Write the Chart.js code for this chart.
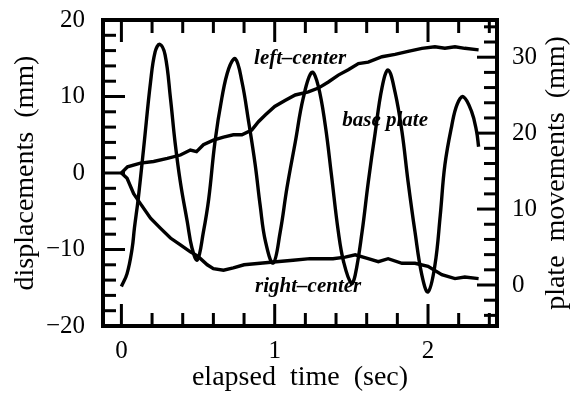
<!DOCTYPE html>
<html>
<head>
<meta charset="utf-8">
<script src="https://cdn.jsdelivr.net/npm/chart.js@4/dist/chart.umd.min.js"></script>
<style>
  html, body { margin: 0; padding: 0; background: #fff; }
</style>
</head>
<body>
<canvas id="myChart" width="572" height="396"></canvas>
<script>
// base plate movement, right axis (mm)
const plateTime = [0, 0.037, 0.07, 0.085, 0.11, 0.145, 0.19, 0.22, 0.25, 0.285, 0.32, 0.35, 0.385, 0.43, 0.46, 0.495,
  0.535, 0.57, 0.61, 0.655, 0.70, 0.743, 0.786, 0.83, 0.873, 0.905, 0.94, 0.99,
  1.036, 1.08, 1.134, 1.186, 1.242, 1.283, 1.33, 1.37, 1.415, 1.45, 1.50,
  1.525, 1.57, 1.61, 1.655, 1.70, 1.74, 1.785, 1.83, 1.87, 1.915, 1.96, 2.00,
  2.045, 2.08, 2.11, 2.155, 2.19, 2.23, 2.285, 2.317, 2.33];
const plateMove = [-0.2, 1.5, 4.8, 7.5, 11.4, 18.0, 26.7, 30.7, 31.7, 30.3, 24.6, 18.8, 13.5, 8.3, 4.9, 3.3,
  7.0, 11.4, 18.8, 24.6, 28.5, 29.8, 26.8, 21.5, 15.8, 10.5, 5.7, 2.9,
  7.0, 12.8, 18.8, 24.6, 28.0, 26.3, 21.0, 14.5, 7.0, 3.0, 0.2,
  1.3, 7.0, 13.5, 20.0, 26.0, 28.3, 25.4, 20.2, 13.6, 7.0, 1.3, -0.9,
  2.6, 9.2, 15.8, 21.0, 23.8, 24.8, 22.8, 20.2, 18.2];

// left-center displacement (mm)
const leftTime = [0, 0.04, 0.124, 0.21, 0.30, 0.385, 0.45, 0.49, 0.535, 0.60, 0.666, 0.73, 0.786, 0.85, 0.894,
  0.94, 1.0, 1.07, 1.134, 1.22, 1.285, 1.35, 1.415, 1.48, 1.546, 1.61, 1.70, 1.785, 1.87, 1.96,
  2.045, 2.11, 2.176, 2.24, 2.33];
const leftCenter = [0, 0.8, 1.3, 1.5, 1.9, 2.35, 3.0, 2.8, 3.7, 4.3, 4.7, 5.0, 5.0, 5.6, 6.7,
  7.6, 8.7, 9.5, 10.2, 10.6, 11.1, 11.9, 12.8, 13.5, 14.3, 14.5, 15.2, 15.5, 15.9, 16.3,
  16.5, 16.3, 16.5, 16.3, 16.1];

// right-center displacement (mm)
const rightTime = [0, 0.037, 0.08, 0.124, 0.19, 0.254, 0.32, 0.385, 0.45, 0.50, 0.56, 0.60, 0.666, 0.73, 0.80,
  0.905, 1.01, 1.12, 1.23, 1.38, 1.46, 1.525, 1.61, 1.676, 1.74, 1.83, 1.915, 2.0, 2.09, 2.176, 2.24, 2.33];
const rightCenter = [0, -0.7, -2.7, -4.0, -5.9, -7.2, -8.5, -9.4, -10.3, -10.9, -12.0, -12.5, -12.7, -12.4, -12.0,
  -11.8, -11.6, -11.4, -11.2, -11.2, -11.0, -10.7, -11.2, -11.6, -11.2, -11.8, -11.8, -12.2, -13.3, -13.8, -13.6, -13.8];

// tick labels
const timeTicks = [0, 1, 2];
const dispTicks = [-20, -10, 0, 10, 20];
const plateTicks = [0, 10, 20, 30];

// curve names, placed in data units (time, displacement)
const notes = [
  { text: 'left\u2013center', t: 1.166, v: 15.0 },
  { text: 'base plate', t: 1.72, v: 6.9 },
  { text: 'right\u2013center', t: 1.218, v: -14.9 }
];

const serif = '"Liberation Serif", "Times New Roman", serif';
Chart.defaults.color = '#000';
Chart.defaults.font.family = serif;

const pairs = (xs, ys) => xs.map((t, i) => ({ x: t, y: ys[i] }));
const minus = v => (v < 0 ? '\u2212' + Math.abs(v) : String(v));

// inward ticks, frame, curve names and the right-hand title
const frameTicks = {
  id: 'frameTicks',
  afterDatasetsDraw(chart) {
    const { ctx, chartArea: a, scales } = chart;
    const sx = scales.x, yl = scales.y, yr = scales.y2;
    const line = (x1, y1, x2, y2) => { ctx.beginPath(); ctx.moveTo(x1, y1); ctx.lineTo(x2, y2); ctx.stroke(); };
    ctx.save();
    ctx.strokeStyle = '#000';
    ctx.lineWidth = 3;

    for (let i = 0; i <= 12; i++) {
      const v = i / 5;
      const len = Number.isInteger(v) ? 22 : 13;
      const px = sx.getPixelForValue(v);
      line(px, a.bottom, px, a.bottom - len);
      line(px, a.top, px, a.top + len);
    }
    for (let v = -18; v <= 18; v += 2) {
      const len = v % 10 === 0 ? 22 : 13;
      const py = yl.getPixelForValue(v);
      line(a.left, py, a.left + len, py);
    }
    for (let v = -4; v <= 34; v += 2) {
      const len = v % 10 === 0 ? 20 : 13;
      const py = yr.getPixelForValue(v);
      line(a.right, py, a.right - len, py);
    }

    ctx.lineWidth = 4;
    ctx.strokeRect(a.left, a.top, a.right - a.left, a.bottom - a.top);

    ctx.fillStyle = '#000';
    ctx.textAlign = 'center';
    ctx.textBaseline = 'middle';
    ctx.font = 'bold italic 21px ' + serif;
    notes.forEach(n => {
      ctx.fillText(n.text, sx.getPixelForValue(n.t), yl.getPixelForValue(n.v));
    });

    ctx.font = '28px ' + serif;
    ctx.translate(chart.width - 15, (a.top + a.bottom) / 2);
    ctx.rotate(-Math.PI / 2);
    ctx.fillText('plate  movements  (mm)', 0, 0);
    ctx.restore();
  }
};

const fixBox = (w, h) => scale => {
  if (w) scale.width = w;
  if (h) scale.height = h;
  scale.paddingTop = 0; scale.paddingBottom = 0;
  scale.paddingLeft = 0; scale.paddingRight = 0;
};

const lineStyle = { borderColor: '#000', borderWidth: 3.4, pointRadius: 0, fill: false };

const ctx = document.getElementById('myChart').getContext('2d');
new Chart(ctx, {
  type: 'line',
  data: {
    datasets: [
      { label: 'base plate', data: pairs(plateTime, plateMove), yAxisID: 'y2', tension: 0.4, ...lineStyle },
      { label: 'left-center', data: pairs(leftTime, leftCenter), yAxisID: 'y', tension: 0, ...lineStyle },
      { label: 'right-center', data: pairs(rightTime, rightCenter), yAxisID: 'y', tension: 0, ...lineStyle }
    ]
  },
  options: {
    responsive: false,
    animation: false,
    layout: { padding: { top: 20, left: 0, right: 0, bottom: 0 } },
    plugins: { legend: { display: false }, tooltip: { enabled: false } },
    scales: {
      x: {
        type: 'linear',
        min: -0.12,
        max: 2.45,
        grid: { display: false },
        border: { display: false },
        afterBuildTicks: s => { s.ticks = timeTicks.map(v => ({ value: v })); },
        afterFit: fixBox(0, 70),
        ticks: { padding: 2, font: { size: 25 }, maxRotation: 0, callback: v => minus(v) },
        title: { display: true, text: 'elapsed  time  (sec)', font: { size: 28 }, padding: { top: 0, bottom: 2 } }
      },
      y: {
        position: 'left',
        min: -20,
        max: 20,
        grid: { display: false },
        border: { display: false },
        afterBuildTicks: s => { s.ticks = dispTicks.map(v => ({ value: v })); },
        afterFit: fixBox(103, 0),
        ticks: { padding: 10, font: { size: 25 }, callback: v => minus(v) },
        title: { display: true, text: 'displacements  (mm)', font: { size: 28 }, padding: { top: 9, bottom: 0 } }
      },
      y2: {
        position: 'right',
        min: -5.4,
        max: 34.9,
        grid: { display: false },
        border: { display: false },
        afterBuildTicks: s => { s.ticks = plateTicks.map(v => ({ value: v })); },
        afterFit: fixBox(75, 0),
        ticks: { padding: 7, font: { size: 25 }, callback: v => minus(v) }
      }
    }
  },
  plugins: [frameTicks]
});
</script>
</body>
</html>
